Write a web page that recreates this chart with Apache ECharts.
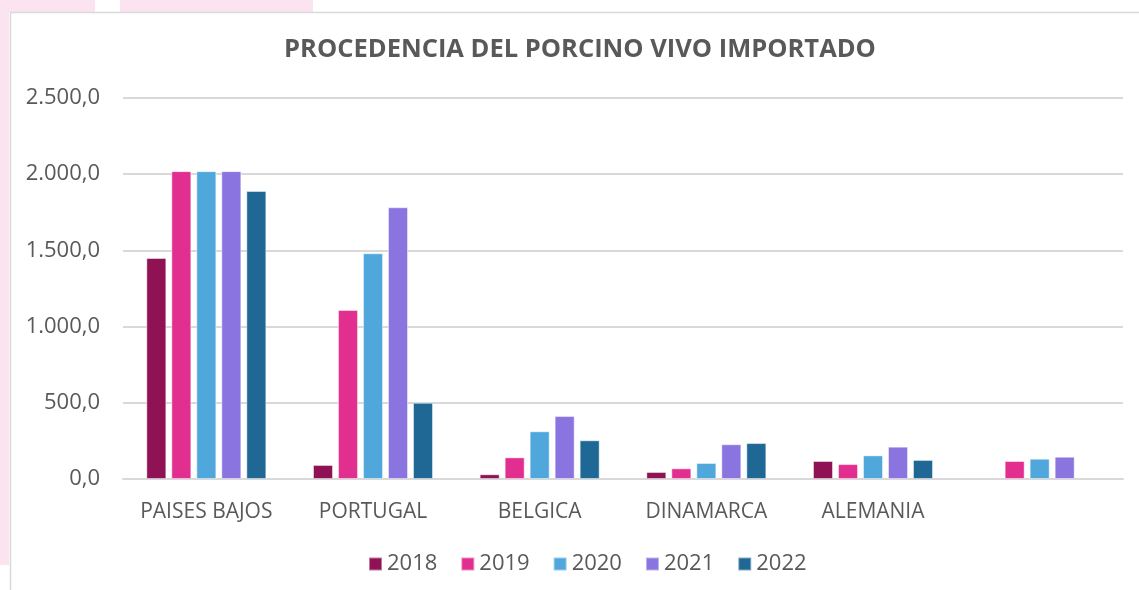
<!DOCTYPE html>
<html>
<head>
  <meta charset="utf-8">
  <script src="https://cdn.jsdelivr.net/npm/echarts@6/dist/echarts.min.js"></script>
  <title>Porcino vivo importado</title>
  <style>
    html, body { margin: 0; padding: 0; background: #fff; }
    #chart { width: 1139px; height: 590px; }
  </style>
</head>
<body>
<div id="chart"></div>
<script type="text/javascript">
  // datos
  var paises = ['PAISES BAJOS', 'PORTUGAL', 'BELGICA', 'DINAMARCA', 'ALEMANIA', ''];
  var anios = ['2018', '2019', '2020', '2021', '2022'];
  var v2018 = [1450, 92, 31, 46, 118, null];
  var v2019 = [2020, 1109, 142, 70, 98, 118];
  var v2020 = [2020, 1481, 313, 105, 155, 133];
  var v2021 = [2020, 1783, 413, 228, 212, 146];
  var v2022 = [1890, 500, 254, 236, 125, null];
  var valores = [v2018, v2019, v2020, v2021, v2022];
  var colores = ['#8e1254', '#e22f8f', '#4fa7dc', '#8a74e0', '#1f6896'];

  var fuente = '"Open Sans", sans-serif';
  var gris = '#595959';

  // formato español: 2.500,0
  function formato(v) {
    var partes = v.toFixed(1).split('.');
    var entero = partes[0].replace(/\B(?=(\d{3})+(?!\d))/g, '.');
    return entero + ',' + partes[1];
  }

  var myChart = echarts.init(document.getElementById('chart'));

  var series = anios.map(function (a, i) {
    return {
      name: a,
      type: 'bar',
      data: valores[i],
      barGap: '25%',
      barCategoryGap: '28%',
      itemStyle: {
        color: colores[i],
        borderColor: 'rgba(255,255,255,0.45)',
        borderWidth: 1
      }
    };
  });

  var option = {
    backgroundColor: '#ffffff',
    animation: false,
    // decoración de fondo (marco y franjas rosas)
    graphic: [
      { type: 'rect', shape: { x: 0, y: 0, width: 9, height: 565 }, style: { fill: '#fbe3ef' }, z: -10 },
      { type: 'rect', shape: { x: 0, y: 0, width: 95, height: 12 }, style: { fill: '#fbe3ef' }, z: -10 },
      { type: 'rect', shape: { x: 120, y: 0, width: 193, height: 12 }, style: { fill: '#fbe3ef' }, z: -10 },
      { type: 'rect', shape: { x: 10.5, y: 12.5, width: 1140, height: 600 }, style: { fill: '#ffffff', stroke: '#d9d9d9', lineWidth: 1.5 }, z: -9 }
    ],
    title: {
      text: 'PROCEDENCIA DEL PORCINO VIVO IMPORTADO',
      left: 575,
      textAlign: 'center',
      top: 32,
      textStyle: { fontFamily: fuente, fontWeight: 'bold', fontSize: 25.5, color: gris }
    },
    legend: {
      bottom: 10,
      left: 363,
      itemWidth: 13,
      itemHeight: 13,
      itemGap: 23,
      icon: 'rect',
      textStyle: { fontFamily: fuente, fontSize: 22, color: gris }
    },
    grid: { left: 123, right: 16, top: 98, bottom: 111 },
    xAxis: {
      type: 'category',
      data: paises,
      axisLine: { lineStyle: { color: '#d9d9d9', width: 2 } },
      axisTick: { show: false },
      axisLabel: {
        fontFamily: fuente, fontSize: 21, color: gris, margin: 23,
        interval: 0, hideOverlap: false
      }
    },
    yAxis: {
      type: 'value',
      min: 0,
      max: 2500,
      interval: 500,
      axisLine: { show: false },
      axisTick: { show: false },
      splitLine: { lineStyle: { color: '#d9d9d9', width: 2 } },
      axisLabel: {
        fontFamily: fuente, fontSize: 22, color: gris, margin: 23,
        formatter: formato
      }
    },
    series: series
  };

  myChart.setOption(option);
</script>
</body>
</html>
